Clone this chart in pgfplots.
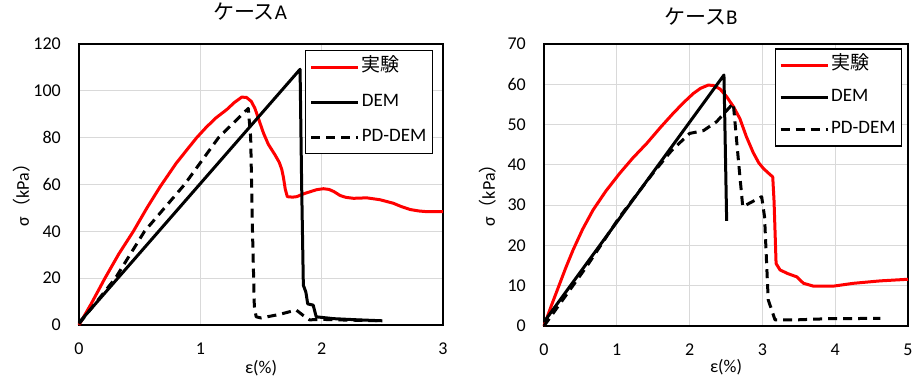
\documentclass[border=0pt]{standalone}
\usepackage{fontspec}
\setmainfont{Carlito}
\newfontfamily\jp{Noto Sans CJK JP}
\usepackage{pgfplots}
\pgfplotsset{compat=1.18}
\definecolor{gridgray}{RGB}{217,217,217}
\definecolor{exred}{RGB}{255,0,0}
\pgfplotsset{
  mystyle/.style={
    scale only axis, width=364pt,
    clip=false,
    axis line style={black, line width=1.2pt},
    grid=major, grid style={gridgray, line width=1.2pt},
    major tick length=0pt,
    tick label style={font=\fontsize{18}{20}\selectfont},
    /pgf/number format/assume math mode=true,
    xticklabel style={inner sep=0pt, yshift=-18pt},
    yticklabel style={inner sep=0pt, xshift=-18pt},
    label style={font=\fontsize{18}{20}\selectfont},
    title style={font=\fontsize{21}{24}\selectfont, anchor=center},
    legend cell align=left,
    legend image code/.code={\draw[#1] (0pt,0pt) -- (47pt,0pt);},
    legend style={draw=black, line width=1.2pt, font=\fontsize{19}{21}\selectfont,
      anchor=north east, inner xsep=4pt, inner ysep=6pt,
      nodes={text height=13pt, text depth=4pt, inner sep=2pt}},
  },
  sA/.style={exred, line width=3pt, line join=round},
  sB/.style={black, line width=3pt, line join=round},
  sC/.style={black, line width=3pt, line join=round, dash pattern=on 9pt off 6pt},
}
\begin{document}
\begin{tikzpicture}
\path[use as bounding box] (0pt,0pt) rectangle (924pt,380pt);
\begin{axis}[mystyle,
  at={(79pt,55pt)}, anchor=south west, height=281pt,
  xmin=0, xmax=3, ymin=0, ymax=120,
  xtick={0,1,2,3}, ytick={0,20,40,60,80,100,120},
  title={{\jp ケース}A},
  title style={at={(0.47,1)}, yshift=26pt},
  xlabel={ε(\%)},
  xlabel style={at={(axis description cs:0.5,0)}, anchor=center, yshift=-43pt},
  ylabel={σ{\jp （}kPa{\jp ）}},
  ylabel style={at={(axis description cs:0,0.5)}, anchor=center, xshift=-6pt, yshift=57pt},
  legend style={at={(1,1)}, xshift=-10pt, yshift=-6pt, row sep=14pt},
]
\addplot[sA] coordinates {
(0,0) (0.1,9) (0.214,20) (0.33,30.5) (0.448,40) (0.56,50) (0.668,59) (0.8,69) (0.9,75.5)
(0.97,80) (1.05,84.5) (1.13,88.5) (1.218,92) (1.28,95) (1.341,97.3) (1.38,97.2) (1.42,95.5)
(1.45,92.5) (1.48,88) (1.52,82) (1.56,77.2) (1.616,72.6) (1.65,69.5) (1.671,66.5) (1.685,63)
(1.7,58) (1.717,54.8) (1.76,54.6) (1.794,54.8) (1.85,56) (1.904,56.9) (1.96,57.8) (2.014,58.2)
(2.06,57.9) (2.1,57) (2.152,55.3) (2.2,54.5) (2.262,54.1) (2.372,54.3) (2.48,53.5) (2.59,52)
(2.66,50.5) (2.73,49.3) (2.8,48.7) (2.866,48.4) (3.0,48.4)
};
\addlegendentry{\jp 実験}
\addplot[sB] coordinates {
(0,1) (1.822,109.2) (1.835,60) (1.849,17) (1.87,14) (1.885,9) (1.93,8.5) (1.955,3.5)
(2.1,2.7) (2.3,2.2) (2.5,1.8)
};
\addlegendentry{DEM}
\addplot[sC] coordinates {
(0,0.5) (0.3,20) (0.54,40) (0.87,60) (1.15,80) (1.395,92.5) (1.415,80) (1.43,40) (1.445,8)
(1.46,3.5) (1.5,3) (1.65,4.5) (1.79,6.4) (1.85,4) (1.9,2.2) (2.0,2.4) (2.2,2.1) (2.5,1.8)
};
\addlegendentry{PD-DEM}
\end{axis}
\begin{axis}[mystyle,
  at={(544pt,54pt)}, anchor=south west, height=282pt,
  xmin=0, xmax=5, ymin=0, ymax=70,
  xtick={0,1,2,3,4,5}, ytick={0,10,20,30,40,50,60,70},
  title={{\jp ケース}B},
  title style={at={(0.431,1)}, yshift=21pt},
  xlabel={ε(\%)},
  xlabel style={at={(axis description cs:0.5,0)}, anchor=center, yshift=-41pt},
  ylabel={σ{\jp （}kPa{\jp ）}},
  ylabel style={at={(axis description cs:0,0.5)}, anchor=center, xshift=-6pt, yshift=56pt},
  legend style={at={(1,1)}, xshift=-5.7pt, yshift=-4.3pt, row sep=11pt},
]
\addplot[sA] coordinates {
(0,0) (0.1,5) (0.2,9.75) (0.3,14.5) (0.4,18.9) (0.53,24) (0.674,28.8) (0.85,33.5) (1.04,37.9)
(1.22,41.7) (1.41,45.3) (1.6,49.3) (1.775,52.8) (1.92,55.5) (2.05,57.7) (2.15,59) (2.256,59.8)
(2.33,59.7) (2.42,58.8) (2.51,56.9) (2.6,54.5) (2.69,51.5) (2.78,47) (2.875,43) (2.95,40.5)
(3.014,39.1) (3.08,38) (3.142,37) (3.16,31) (3.188,15.5) (3.243,13.9) (3.35,13) (3.472,12.2)
(3.564,10.6) (3.7,9.9) (3.977,9.9) (4.252,10.6) (4.619,11.2) (5.0,11.6)
};
\addlegendentry{\jp 実験}
\addplot[sB] coordinates {
(0,1) (2.472,62.3) (2.509,26.1)
};
\addlegendentry{DEM}
\addplot[sC] coordinates {
(0,0) (0.583,14.7) (1.04,27.1) (1.5,38) (1.75,43.5) (2.0,47.8) (2.19,48.5) (2.37,50.7) (2.6,55.3)
(2.67,41.2) (2.73,29.6) (2.99,32.1) (3.03,27) (3.08,6.5) (3.174,1.5) (3.43,1.5) (3.885,1.8) (4.62,1.9)
};
\addlegendentry{PD-DEM}
\end{axis}
\end{tikzpicture}
\end{document}
